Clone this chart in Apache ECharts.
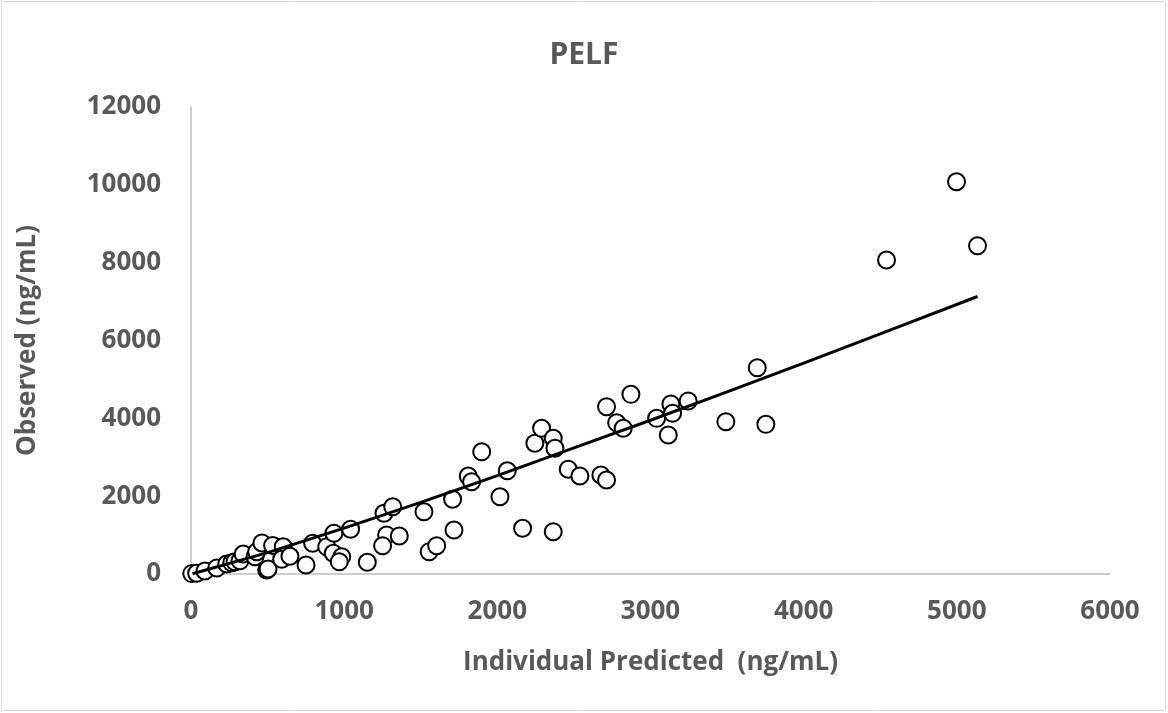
<!DOCTYPE html>
<html>
<head>
<meta charset="utf-8">
<script src="https://cdn.jsdelivr.net/npm/echarts@6/dist/echarts.min.js"></script>
<style>
html,body{margin:0;padding:0;background:#fff;}
#c{width:1168px;height:713px;}
</style>
</head>
<body>
<div id="c"></div>
<script>
// Observed vs individual predicted (ng/mL)
var predX = [5, 37, 91, 168, 233, 266, 287, 320, 341, 418, 429, 463, 494, 503, 533, 602, 592, 646, 751, 794,
  886, 933, 929, 984, 968, 1042, 1151, 1260, 1317, 1277, 1360, 1251, 1521, 1555, 1604, 1708, 1717, 1810, 1832, 1898,
  2017, 2065, 2165, 2245, 2289, 2365, 2376, 2365, 2463, 2539, 2676, 2713, 2713, 2872, 2779, 2822, 3040, 3116, 3133, 3144,
  3246, 3492, 3753, 3697, 4541, 4998, 5135];
var obsY = [10, 18, 77, 154, 257, 290, 316, 342, 514, 445, 573, 797, 103, 128, 732, 701, 378, 455, 231, 789,
  701, 1046, 532, 445, 316, 1149, 301, 1560, 1729, 1002, 976, 727, 1601, 573, 727, 1919, 1131, 2518, 2372, 3142,
  1986, 2654, 1174, 3358, 3744, 3487, 3230, 1087, 2690, 2518, 2544, 2415, 4299, 4617, 3887, 3744, 4000, 3571, 4368, 4129,
  4445, 3913, 3846, 5301, 8068, 10080, 8435];
// trend line
var trendX = [10, 500, 1000, 1500, 2000, 2500, 3000, 3500, 4000, 4500, 5135];
var trendY = [6, 550, 1180, 1840, 2530, 3240, 3950, 4680, 5420, 6170, 7130];
var xTicks = [0, 1000, 2000, 3000, 4000, 5000, 6000];
var yTicks = [0, 2000, 4000, 6000, 8000, 10000, 12000];

var scatterData = predX.map(function(x, i){ return [x, obsY[i]]; });
var lineData = trendX.map(function(x, i){ return [x, trendY[i]]; });

var FONT = 'Open Sans';
var GRAY = '#595959';
function plain(v){ return String(v); }
var chart = echarts.init(document.getElementById('c'), null, {renderer:'canvas'});
chart.setOption({
  backgroundColor:'#ffffff',
  animation:false,
  title:{
    text:'PELF', left:'center', top:35,
    textStyle:{fontFamily:FONT, fontWeight:'bold', fontSize:30, color:GRAY}
  },
  graphic:[{
    type:'rect', shape:{x:1.5, y:1.5, width:1164, height:709},
    style:{fill:'none', stroke:'#d9d9d9', lineWidth:1}, silent:true
  }],
  grid:{left:191, top:107, width:919, height:467, containLabel:false},
  xAxis:{
    type:'value', min:xTicks[0], max:xTicks[xTicks.length-1], interval:1000,
    name:'Individual Predicted  (ng/mL)', nameLocation:'middle', nameGap:76,
    nameTextStyle:{fontFamily:FONT, fontWeight:'bold', fontSize:26, color:GRAY},
    axisLine:{show:true, onZero:false, lineStyle:{color:'#bfbfbf', width:1.5}},
    axisTick:{show:false},
    splitLine:{show:false},
    axisLabel:{margin:25, fontFamily:FONT, fontWeight:'bold', fontSize:26, color:GRAY, formatter:plain}
  },
  yAxis:{
    type:'value', min:yTicks[0], max:yTicks[yTicks.length-1], interval:2000,
    name:'Observed (ng/mL)', nameLocation:'middle', nameGap:150, nameRotate:90,
    nameTextStyle:{fontFamily:FONT, fontWeight:'bold', fontSize:26, color:GRAY},
    axisLine:{show:true, onZero:false, lineStyle:{color:'#bfbfbf', width:1.5}},
    axisTick:{show:false},
    splitLine:{show:false},
    axisLabel:{margin:30, fontFamily:FONT, fontWeight:'bold', fontSize:26, color:GRAY, formatter:plain}
  },
  series:[
    {
      type:'scatter', data:scatterData, symbol:'circle', symbolSize:17,
      itemStyle:{color:'#ffffff', borderColor:'#000000', borderWidth:2, opacity:1},
      z:2
    },
    {
      type:'line', data:lineData, showSymbol:false, symbol:'none', smooth:false,
      lineStyle:{color:'#000000', width:3},
      z:3
    }
  ]
});
</script>
</body>
</html>
